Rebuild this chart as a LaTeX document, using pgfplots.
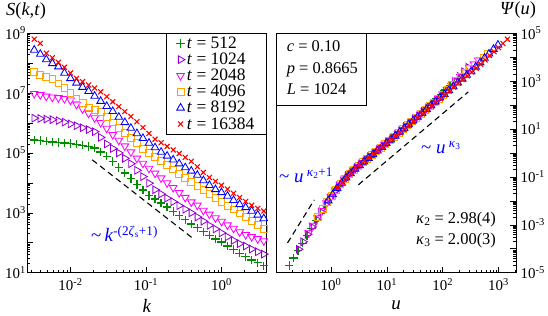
\documentclass[border=0pt]{standalone}
\usepackage{fontspec}
\setmainfont{Liberation Serif}
\usepackage{pgfplots}
\usepackage{pgfplotstable}
\pgfplotsset{compat=1.18}

\definecolor{cgreen}{RGB}{0,139,0}
\definecolor{cpurple}{RGB}{148,0,211}
\definecolor{cmagenta}{RGB}{255,0,255}
\definecolor{corange}{RGB}{255,165,0}
\definecolor{cblue}{RGB}{0,0,255}
\definecolor{cred}{RGB}{255,0,0}

% k  S(t=512) S(1024) S(2048) S(4096) S(8192) S(16384)
\pgfplotstableread{
k        s0      s1      s2      s3      s4      s5
3.311e-3 2.69e5  1.45e6  9.55e6  5.01e7  2.75e8  6.31e8
3.981e-3 2.57e5  1.41e6  8.71e6  4.07e7  2.00e8  4.57e8
4.786e-3 2.45e5  1.35e6  7.76e6  3.39e7  1.32e8  2.14e8
5.754e-3 2.34e5  1.29e6  7.24e6  2.95e7  9.77e7  1.51e8
6.918e-3 2.24e5  1.20e6  6.92e6  2.09e7  7.59e7  1.07e8
8.318e-3 2.14e5  1.07e6  6.46e6  1.51e7  4.68e7  7.24e7
1.000e-2 2.04e5  9.33e5  5.75e6  1.00e7  3.09e7  4.68e7
1.202e-2 1.95e5  8.13e5  4.17e6  6.61e6  2.19e7  3.09e7
1.445e-2 1.82e5  6.92e5  2.95e6  4.57e6  1.58e7  2.40e7
1.738e-2 1.62e5  6.03e5  2.09e6  3.31e6  1.15e7  1.86e7
2.089e-2 1.45e5  5.13e5  1.48e6  2.82e6  7.94e6  1.48e7
2.512e-2 1.07e5  3.31e5  1.02e6  2.29e6  5.37e6  1.10e7
3.020e-2 7.76e4  2.00e5  6.61e5  1.55e6  3.63e6  7.59e6
3.631e-2 5.13e4  1.41e5  4.07e5  1.05e6  2.45e6  5.13e6
4.365e-2 3.31e4  1.00e5  2.63e5  6.92e5  1.58e6  3.55e6
5.248e-2 2.14e4  6.61e4  1.70e5  4.68e5  1.05e6  2.40e6
6.310e-2 1.38e4  4.37e4  1.07e5  3.16e5  6.76e5  1.66e6
7.586e-2 8.71e3  2.63e4  6.61e4  2.14e5  4.47e5  1.10e6
9.120e-2 5.75e3  1.62e4  4.47e4  1.35e5  3.09e5  7.08e5
0.1096   3.80e3  9.77e3  3.02e4  9.77e4  2.14e5  4.47e5
0.1318   2.88e3  5.89e3  2.09e4  7.24e4  1.51e5  2.88e5
0.1585   2.14e3  4.27e3  1.45e4  5.37e4  1.07e5  2.19e5
0.1905   1.58e3  3.09e3  1.00e4  3.89e4  7.94e4  1.66e5
0.2291   1.12e3  2.34e3  6.92e3  2.82e4  5.89e4  1.26e5
0.2754   813     1.74e3  4.68e3  2.04e4  4.37e4  9.55e4
0.3311   589     1.32e3  3.24e3  1.48e4  3.24e4  7.08e4
0.3981   427     1.00e3  2.29e3  1.07e4  2.51e4  5.25e4
0.4786   316     724     1.78e3  7.94e3  1.82e4  3.47e4
0.5754   234     525     1.20e3  5.75e3  1.20e4  2.24e4
0.6918   178     380     891     4.27e3  8.32e3  1.51e4
0.8318   135     288     676     3.09e3  6.03e3  1.12e4
1.000    105     214     513     2.29e3  4.79e3  8.32e3
1.202    77.6    158     389     1.70e3  3.63e3  6.17e3
1.445    58.9    120     302     1.29e3  2.63e3  4.47e3
1.738    44.7    93.3    229     955     1.91e3  3.24e3
2.089    33.9    77.6    186     708     1.51e3  2.40e3
2.512    26.3    61.7    158     525     1.15e3  1.78e3
3.020    21.4    50.1    135     389     851     1.41e3
3.631    17.0    41.7    115     288     646     1.15e3
}\Sdata

% scaled data Psi(u), one table per t
\pgfplotstableread{
u      psi
0.178  2.00e-5
0.214  4.07e-5
0.257  8.32e-5
0.309  1.70e-4
0.372  3.55e-4
0.447  7.24e-4
0.537  1.48e-3
0.646  3.02e-3
0.776  6.31e-3
0.933  1.17e-2
1.122  2.19e-2
1.349  3.80e-2
1.622  6.76e-2
1.950  0.105
2.344  0.162
2.818  0.234
3.388  0.339
4.074  0.479
4.898  0.676
5.888  0.955
7.079  1.380
8.511  1.950
10.23  2.754
12.30  3.981
14.79  5.754
17.78  8.318
21.38  11.75
25.70  16.98
30.90  24.55
37.15  35.48
44.67  51.29
53.70  77.62
64.57  117.5
77.62  182.0
93.33  275.4
112.2  426.6
134.9  645.7
162.2  933.3
195.0  1318
}\Pa
\pgfplotstableread{
u      psi
0.263  9.55e-5
0.316  1.95e-4
0.380  3.98e-4
0.457  8.13e-4
0.550  1.70e-3
0.661  3.47e-3
0.794  7.08e-3
0.955  1.32e-2
1.148  2.45e-2
1.380  4.17e-2
1.660  7.24e-2
1.995  0.112
2.399  0.174
2.884  0.245
3.467  0.355
4.169  0.501
5.012  0.724
6.026  1.023
7.244  1.445
8.710  2.089
10.47  2.951
12.59  4.266
15.14  6.026
18.20  8.710
21.88  12.59
26.30  18.20
31.62  26.30
38.02  38.02
45.71  54.95
54.95  79.43
66.07  112.2
79.43  162.2
95.50  234.4
114.8  380.2
138.0  616.6
166.0  1000
199.5  1585
239.9  2455
288.4  3715
}\Pb
\pgfplotstableread{
u      psi
0.398  4.57e-4
0.479  9.33e-4
0.575  1.91e-3
0.692  3.89e-3
0.832  8.13e-3
1.000  1.48e-2
1.202  2.69e-2
1.445  4.57e-2
1.738  7.76e-2
2.089  0.120
2.512  0.191
3.020  0.269
3.631  0.380
4.365  0.537
5.248  0.759
6.310  1.096
7.586  1.549
9.120  2.239
10.96  3.162
13.18  4.571
15.85  6.457
19.05  9.333
22.91  13.49
27.54  19.50
33.11  28.18
39.81  40.74
47.86  57.54
57.54  83.18
69.18  120.2
83.18  186.2
100.0  281.8
120.2  436.5
144.5  660.7
173.8  1000
208.9  1514
251.2  2344
302.0  3548
363.1  5129
436.5  7413
}\Pc
\pgfplotstableread{
u      psi
0.589  2.19e-3
0.708  4.47e-3
0.851  9.12e-3
1.023  1.62e-2
1.230  2.95e-2
1.479  5.01e-2
1.778  8.51e-2
2.138  0.129
2.570  0.200
3.090  0.282
3.715  0.407
4.467  0.575
5.370  0.813
6.457  1.148
7.762  1.622
9.333  2.344
11.22  3.311
13.49  4.786
16.22  6.918
19.50  10.00
23.44  14.45
28.18  20.89
33.88  29.51
40.74  42.66
48.98  61.66
58.88  89.13
70.79  128.8
85.11  186.2
102.3  269.2
123.0  436.5
147.9  691.8
177.8  1023
213.8  1514
257.0  2291
309.0  3388
371.5  4898
446.7  6918
537.0  9772
645.7  13490
}\Pd
\pgfplotstableread{
u      psi
0.891  1.02e-2
1.072  1.82e-2
1.288  3.31e-2
1.549  5.50e-2
1.862  9.12e-2
2.239  0.138
2.692  0.214
3.236  0.302
3.890  0.427
4.677  0.603
5.623  0.871
6.761  1.230
8.128  1.738
9.772  2.512
11.75  3.548
14.13  5.129
16.98  7.413
20.42  10.72
24.55  15.49
29.51  22.39
35.48  31.62
42.66  45.71
51.29  66.07
61.66  95.50
74.13  138.0
89.13  199.5
107.2  281.8
128.8  407.4
154.9  588.8
186.2  851.1
223.9  1230
269.2  1778
323.6  2512
389.0  3890
467.7  5888
562.3  9120
676.1  13800
812.8  21380
977.2  32360
}\Pe
\pgfplotstableread{
u      psi
1.318  3.63e-2
1.585  5.89e-2
1.905  9.77e-2
2.291  0.148
2.754  0.229
3.311  0.324
3.981  0.457
4.786  0.646
5.754  0.912
6.918  1.288
8.318  1.820
10.00  2.630
12.02  3.802
14.45  5.248
17.38  7.079
20.89  10.00
25.12  14.45
30.20  20.89
36.31  30.20
43.65  43.65
52.48  63.10
63.10  89.13
75.86  128.8
91.20  186.2
109.6  269.2
131.8  389.0
158.5  562.3
190.5  812.8
229.1  1175
275.4  1660
331.1  2399
398.1  3467
478.6  5012
575.4  7586
691.8  11750
831.8  16980
1000   25120
1202   37150
1445   56230
}\Pf

\pgfplotsset{
  sA/.style={only marks, color=cgreen, mark=+, mark size=4.2bp, line width=1.3bp, mark options={draw=cgreen, solid}},
  sB/.style={only marks, color=cpurple, mark=triangle, mark size=4.4bp, line width=0.85bp, mark options={rotate=-90}},
  sC/.style={only marks, color=cmagenta, mark=triangle, mark size=4.4bp, line width=0.85bp, mark options={rotate=180}},
  sD/.style={only marks, color=corange, mark=square, mark size=3.4bp, line width=0.85bp},
  sE/.style={only marks, color=cblue, mark=triangle, mark size=4.4bp, line width=0.85bp},
  sF/.style={only marks, color=cred, mark=x, mark size=3.5bp, line width=1.1bp},
  every axis/.append style={
    scale only axis, width=239.4bp, height=239.5bp,
    xmode=log, ymode=log,
    tick align=inside,
    major tick length=6bp, minor tick length=3bp,
    every tick/.append style={line width=0.6bp, black},
    axis line style={line width=0.9bp},
    tick label style={font=\fontsize{15}{15}\selectfont},
  },
}

\begin{document}
\begin{tikzpicture}
% ---------------- left panel ----------------
\begin{axis}[
  at={(27.3bp,43.3bp)}, anchor=south west,
  xmin=0.00268, xmax=3.97, ymin=10, ymax=1e9,
  xtick pos=left, ytick pos=left,
  xtick={0.01,0.1,1},
  xticklabels={10\textsuperscript{-2},10\textsuperscript{-1},10\textsuperscript{0}},
  minor xtick={0.003,0.004,0.005,0.006,0.007,0.008,0.009,0.02,0.03,0.04,0.05,0.06,0.07,0.08,0.09,0.2,0.3,0.4,0.5,0.6,0.7,0.8,0.9,2,3},
  ytick={1e1,1e2,1e3,1e4,1e5,1e6,1e7,1e8,1e9},
  yticklabels={10\textsuperscript{1},,10\textsuperscript{3},,10\textsuperscript{5},,10\textsuperscript{7},,10\textsuperscript{9}},
  minor ytick={2e1,3e1,4e1,5e1,6e1,7e1,8e1,9e1,2e2,3e2,4e2,5e2,6e2,7e2,8e2,9e2,2e3,3e3,4e3,5e3,6e3,7e3,8e3,9e3,2e4,3e4,4e4,5e4,6e4,7e4,8e4,9e4,2e5,3e5,4e5,5e5,6e5,7e5,8e5,9e5,2e6,3e6,4e6,5e6,6e6,7e6,8e6,9e6,2e7,3e7,4e7,5e7,6e7,7e7,8e7,9e7,2e8,3e8,4e8,5e8,6e8,7e8,8e8,9e8},
  xticklabel style={yshift=-2bp},
  yticklabel style={xshift=2bp},
  legend style={at={(1,1)}, anchor=north east, draw=black, line width=0.8bp,
    font=\fontsize{17.5}{17.5}\selectfont, inner xsep=10bp, inner ysep=1.5bp, row sep=-1bp,
    /tikz/every even column/.append style={column sep=4bp}},
  legend cell align=left,
]
\addplot[sA] table[x=k,y=s0] {\Sdata};
\addlegendentry{\textit{t} = 512}
\addplot[sB] table[x=k,y=s1] {\Sdata};
\addlegendentry{\textit{t} = 1024}
\addplot[sC] table[x=k,y=s2] {\Sdata};
\addlegendentry{\textit{t} = 2048}
\addplot[sD] table[x=k,y=s3] {\Sdata};
\addlegendentry{\textit{t} = 4096}
\addplot[sE] table[x=k,y=s4] {\Sdata};
\addlegendentry{\textit{t} = 8192}
\addplot[sF] table[x=k,y=s5] {\Sdata};
\addlegendentry{\textit{t} = 16384}
\addplot[forget plot, black, line width=1.1bp, dash pattern=on 6bp off 4bp] coordinates {(0.0194,5.9e4) (0.426,135)};
\end{axis}

% ---------------- right panel ----------------
\begin{axis}[
  at={(276.7bp,43.3bp)}, anchor=south west,
  xmin=0.1064, xmax=2066, ymin=1e-5, ymax=1e5,
  xtick pos=left, ytick pos=right, yticklabel pos=right,
  xtick={1,10,100,1000},
  xticklabels={10\textsuperscript{0},10\textsuperscript{1},10\textsuperscript{2},10\textsuperscript{3}},
  minor xtick={0.2,0.3,0.4,0.5,0.6,0.7,0.8,0.9,2,3,4,5,6,7,8,9,20,30,40,50,60,70,80,90,200,300,400,500,600,700,800,900,2000},
  ytick={1e-5,1e-4,1e-3,1e-2,1e-1,1,1e1,1e2,1e3,1e4,1e5},
  yticklabels={10\textsuperscript{-5},,10\textsuperscript{-3},,10\textsuperscript{-1},,10\textsuperscript{1},,10\textsuperscript{3},,10\textsuperscript{5}},
  minor ytick={2e-5,3e-5,4e-5,5e-5,6e-5,7e-5,8e-5,9e-5,2e-4,3e-4,4e-4,5e-4,6e-4,7e-4,8e-4,9e-4,2e-3,3e-3,4e-3,5e-3,6e-3,7e-3,8e-3,9e-3,2e-2,3e-2,4e-2,5e-2,6e-2,7e-2,8e-2,9e-2,0.2,0.3,0.4,0.5,0.6,0.7,0.8,0.9,2,3,4,5,6,7,8,9,20,30,40,50,60,70,80,90,200,300,400,500,600,700,800,900,2e3,3e3,4e3,5e3,6e3,7e3,8e3,9e3,2e4,3e4,4e4,5e4,6e4,7e4,8e4,9e4},
  xticklabel style={yshift=-2bp},
  yticklabel style={xshift=1bp},
]
\addplot[sA] table[x=u,y=psi] {\Pa};
\addplot[sB] table[x=u,y=psi] {\Pb};
\addplot[sC] table[x=u,y=psi] {\Pc};
\addplot[sD] table[x=u,y=psi] {\Pd};
\addplot[sE] table[x=u,y=psi] {\Pe};
\addplot[sF] table[x=u,y=psi] {\Pf};
\addplot[black, line width=1.1bp, dash pattern=on 6bp off 4bp] coordinates {(0.166,1.74e-4) (0.501,1.10e-2)};
\addplot[black, line width=1.1bp, dash pattern=on 6bp off 4bp] coordinates {(3.09,0.0468) (288,355)};
\end{axis}

% info box
\draw[line width=0.8bp] (276.7bp,211bp) rectangle (366.7bp,282.8bp);
\begin{scope}[every node/.style={anchor=base west, inner sep=0pt, font=\fontsize{16.5}{16.5}\selectfont}]
\node at (286.7bp,264bp) {\textit{c} = 0.10};
\node at (286.7bp,242bp) {\textit{p} = 0.8665};
\node at (286.7bp,221bp) {\textit{L} = 1024};
\node at (416bp,92.7bp) {\textit{κ}\textsubscript{2} = 2.98(4)};
\node at (416bp,71.7bp) {\textit{κ}\textsubscript{3} = 2.00(3)};
\end{scope}

% titles and axis labels
\node[anchor=base west, inner sep=0pt, font=\fontsize{18.5}{18.5}\selectfont] at (6bp,300.5bp) {\textit{S}(\textit{k},\textit{t})};
\node[anchor=base west, inner sep=0pt, font=\fontsize{18.5}{18.5}\selectfont] at (500bp,301bp) {\textit{Ψ}(\textit{u})};
\node[anchor=base, inner sep=0pt, font=\fontsize{19}{19}\selectfont] at (147bp,3.5bp) {\textit{k}};
\node[anchor=base, inner sep=0pt, font=\fontsize{19}{19}\selectfont] at (396bp,6.5bp) {\textit{u}};

% blue annotations
\node[anchor=base west, inner sep=0pt, text=cblue, font=\fontsize{19}{19}\selectfont] at (91bp,74.3bp) {\textasciitilde\,\textit{k}\textsuperscript{-(2\textit{ζ}\textsubscript{s}+1)}};
\node[anchor=base west, inner sep=0pt, text=cblue, font=\fontsize{19}{19}\selectfont] at (279bp,133bp) {\textasciitilde\ \textit{u}\,\textsuperscript{\textit{κ}\textsubscript{2}+1}};
\node[anchor=base west, inner sep=0pt, text=cblue, font=\fontsize{19}{19}\selectfont] at (421bp,162.7bp) {\textasciitilde\ \textit{u}\,\textsuperscript{\textit{κ}\textsubscript{3}}};

\pgfresetboundingbox
\useasboundingbox (0,0) rectangle (548bp,316bp);
\end{tikzpicture}
\end{document}
